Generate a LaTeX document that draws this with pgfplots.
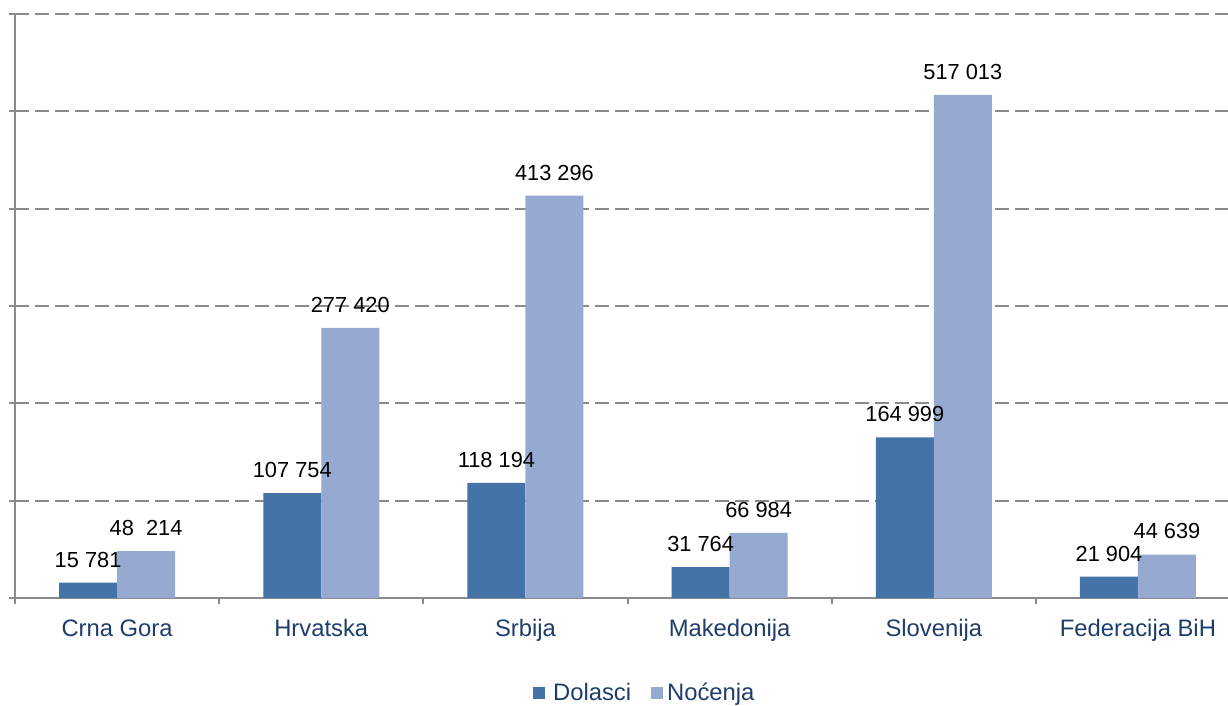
\documentclass[border=0pt]{standalone}
\usepackage{fontspec}
\setmainfont{Liberation Sans}
\usepackage{pgfplots}
\pgfplotsset{compat=1.18}
\definecolor{darkbar}{HTML}{4572A7}
\definecolor{lightbar}{HTML}{95A9D1}
\definecolor{axgray}{HTML}{8A8A8A}
\definecolor{txtblue}{HTML}{1F3D6B}
\begin{document}
\begin{tikzpicture}
\begin{axis}[
  scale only axis,
  width=606.5pt, height=292pt,
  at={(0,0)}, anchor=south west,
  xmin=-0.5, xmax=5.441,
  ymin=0, ymax=600000,
  axis x line*=bottom, axis y line*=left,
  axis line style={draw=axgray, line width=1pt},
  ytick={0,100000,...,600000},
  yticklabels={},
  ymajorgrids,
  y grid style={draw=axgray, line width=1pt, dash pattern=on 7pt off 3pt},
  tick align=outside,
  major tick length=3pt,
  minor tick length=3pt,
  y tick style={draw=axgray, line width=1pt},
  xtick={0,1,2,3,4,5},
  xticklabels={Crna Gora,Hrvatska,Srbija,Makedonija,Slovenija,Federacija BiH},
  x tick style={draw=none},
  minor xtick={-0.5,0.5,1.5,2.5,3.5,4.5,5.5},
  every minor x tick/.style={draw=axgray, line width=1pt},
  xticklabel style={font=\fontsize{11.9}{14}\selectfont, text=txtblue,
    text height=8.6pt, text depth=2.6pt, yshift=-4pt},
  ybar, bar width=29pt,
  enlarge x limits=false,
  nodes near coords,
  point meta=explicit symbolic,
  every node near coord/.append style={font=\fontsize{10.9}{12}\selectfont, text=black, inner sep=0pt, yshift=7.5pt},
  legend style={at={(0.52,-0.163)}, anchor=center, draw=none, fill=none,
    legend columns=2, font=\fontsize{11.9}{14}\selectfont, text=txtblue,
    /tikz/every even column/.append style={column sep=8pt}},
  legend image code/.code={\fill[#1] (0pt,-3pt) rectangle (6pt,3pt);},
  legend cell align=left,
  clip=false,
]
\addplot[fill=darkbar, draw=none, bar shift=-14.5pt] coordinates {
  (0,15781) [15 781] (1,107754) [107 754] (2,118194) [118 194]
  (3,31764) [31 764] (4,164999) [164 999] (5,21904) [21 904]};
\addplot[fill=lightbar, draw=none, bar shift=14.5pt] coordinates {
  (0,48214) [48\ \ 214] (1,277420) [277 420] (2,413296) [413 296]
  (3,66984) [66 984] (4,517013) [517 013] (5,44639) [44 639]};
\legend{\hspace{2pt}Dolasci,\hspace{0pt}Noćenja}
\end{axis}
\pgfresetboundingbox
\path[use as bounding box] (-7.5pt,-54pt) rectangle (606.5pt,299pt);
\end{tikzpicture}
\end{document}
